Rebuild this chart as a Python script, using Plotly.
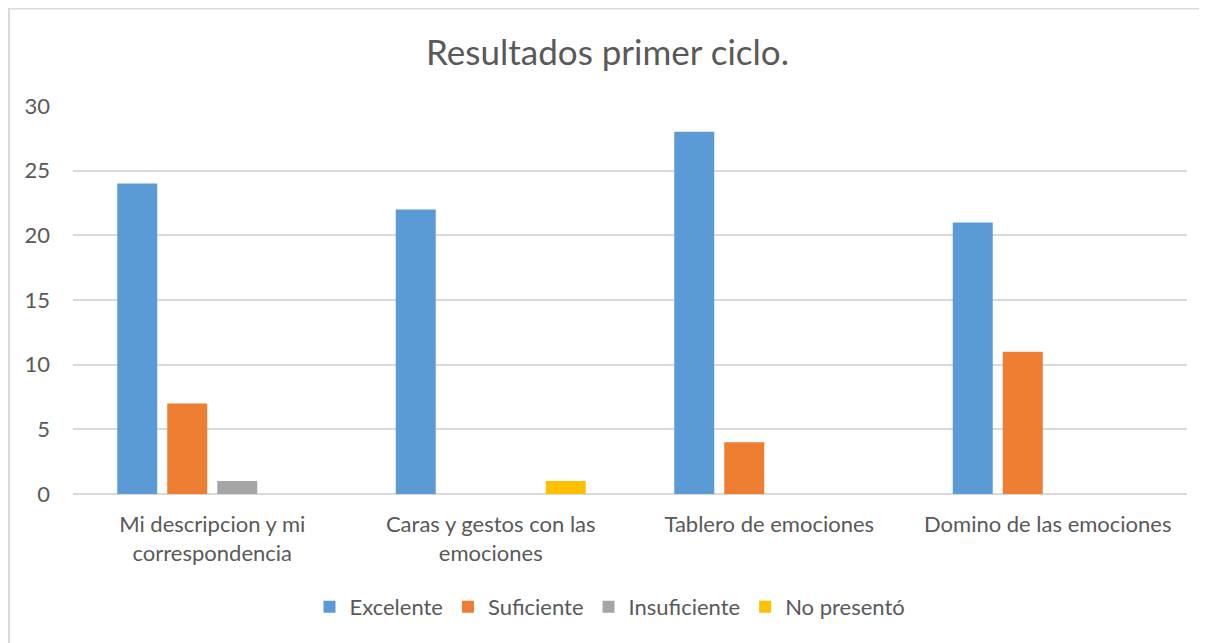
import plotly.graph_objects as go

categories = ["Mi descripcion y mi<br>correspondencia", "Caras y gestos con las<br>emociones",
              "Tablero de emociones", "Domino de las emociones"]
series_names = ["Excelente", "Suficiente", "Insuficiente", "No presentó"]
excelente = [24, 22, 28, 21]
suficiente = [7, 0, 4, 11]
insuficiente = [1, 0, 0, 0]
no_presento = [0, 1, 0, 0]
colors = ["#5B9BD5", "#ED7D31", "#A5A5A5", "#FFC000"]

# page has an 8px body margin, so the figure starts at (8, 8)
OFF = 8
W, H = 1207 - OFF, 643 - OFF
L, R, T, B = 73 - OFF, 20, 106 - OFF, 149
ph = H - T - B
pw = W - L - R
FONT = "Lato"
GRAY = "#595959"

fig = go.Figure()
for name, vals, col in zip(series_names, [excelente, suficiente, insuficiente, no_presento], colors):
    fig.add_trace(go.Bar(x=categories, y=vals, name=name, marker=dict(color=col, line=dict(width=0))))

fig.update_layout(
    width=W, height=H,
    margin=dict(l=L, r=R, t=T, b=B),
    paper_bgcolor="white", plot_bgcolor="white",
    barmode="group", bargap=1 - 200 / (pw / 4), bargroupgap=0.2,
    font=dict(family=FONT, color=GRAY),
    title=dict(text="Resultados primer ciclo.", x=0.5, xanchor="center",
               y=1 - (53 - OFF) / H, yanchor="middle", yref="container",
               font=dict(size=35, color=GRAY, family=FONT)),
    legend=dict(orientation="h", x=0.5 - 20 / pw, xanchor="center", y=-(607 - 494) / ph, yanchor="middle",
                font=dict(size=22, color=GRAY), traceorder="normal", itemwidth=30),
    xaxis=dict(showgrid=False, showline=False, ticks="", tickfont=dict(size=22, color=GRAY),
               ticklabelstandoff=15),
    yaxis=dict(range=[0, 30], dtick=5, showgrid=True, gridcolor="#D9D9D9", gridwidth=1.6,
               zeroline=True, zerolinecolor="#D9D9D9", zerolinewidth=1.6, showline=False,
               ticks="", tickfont=dict(size=22, color=GRAY), ticklabelstandoff=22),
)
fig.add_shape(type="rect", xref="paper", yref="paper",
              x0=(1 - L) / pw, x1=1.2, y0=-0.6, y1=(ph + T - 0.5) / ph,
              line=dict(color="#D9D9D9", width=2), fillcolor="rgba(0,0,0,0)", layer="below")

fig.write_html("out.html")
